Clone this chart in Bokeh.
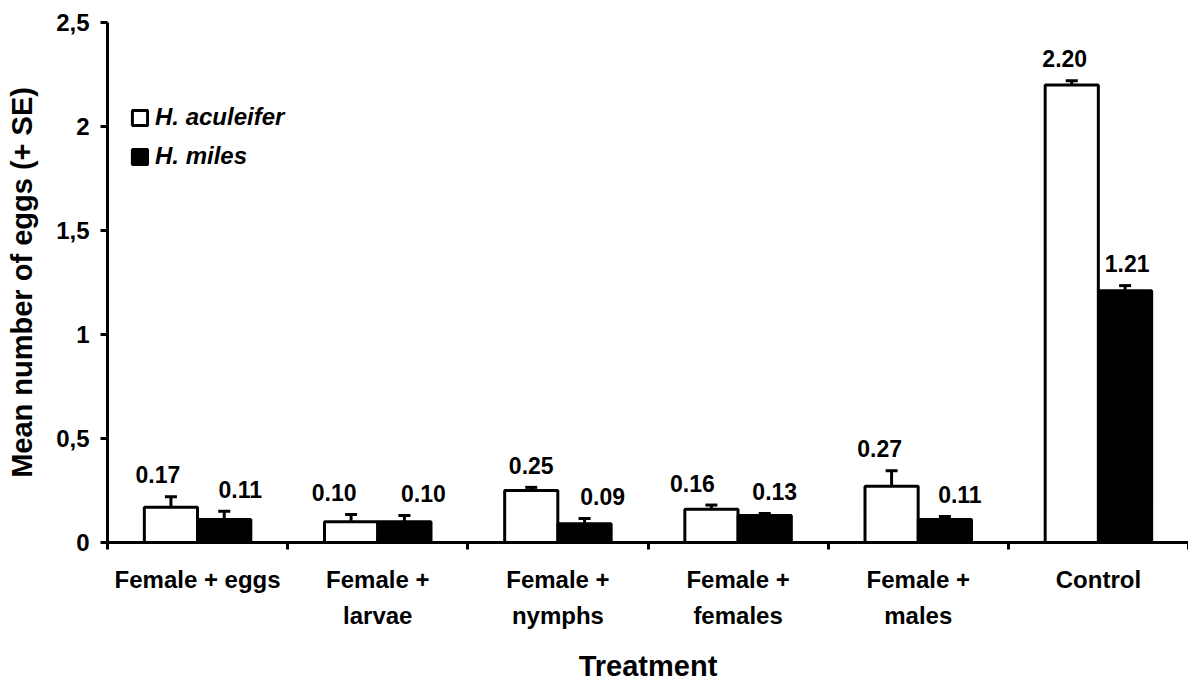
from bokeh.plotting import figure
from bokeh.models import (Range1d, FixedTicker, LinearAxis, Whisker, ColumnDataSource,
                          Legend, LegendItem, TeeHead)
from bokeh.core.properties import value
from bokeh.embed import file_html
from bokeh.resources import INLINE

# ---------------- data ----------------
categories = ["Female + eggs", "Female +\nlarvae", "Female +\nnymphs",
              "Female +\nfemales", "Female +\nmales", "Control"]
aculeifer = [0.17, 0.10, 0.25, 0.16, 0.27, 2.20]
aculeifer_se = [0.05, 0.035, 0.015, 0.02, 0.075, 0.02]
miles = [0.11, 0.10, 0.09, 0.13, 0.11, 1.21]
miles_se = [0.04, 0.03, 0.025, 0.01, 0.015, 0.025]
y_ticks = [0, 0.5, 1, 1.5, 2, 2.5]
y_tick_labels = ["0", "0,5", "1", "1,5", "2", "2,5"]
series_names = ["H. aculeifer", "H. miles"]

# label horizontal nudges (px), as placed in the original
aculeifer_label_dx = [-13, -17, 0, -19, -12, -7]
miles_label_dx = [16, 19, 18, 10, 15, 2]

FONT = "Liberation Sans"
BAR_W = 0.295
OFF = 0.148

centers = [i + 0.5 for i in range(len(categories))]
x_a = [c - OFF for c in centers]
x_m = [c + OFF for c in centers]

src_a = ColumnDataSource(dict(x=x_a, top=aculeifer, upper=[v + s for v, s in zip(aculeifer, aculeifer_se)],
                              lab=[f"{v:.2f}" for v in aculeifer], dx=aculeifer_label_dx))
src_m = ColumnDataSource(dict(x=x_m, top=miles, upper=[v + s for v, s in zip(miles, miles_se)],
                              lab=[f"{v:.2f}" for v in miles], dx=miles_label_dx))

p = figure(width=1188, height=684, x_range=Range1d(0, len(categories)), y_range=Range1d(0, 2.5),
           output_backend="svg", toolbar_location=None,
           min_border_left=107, min_border_right=0, min_border_top=22, min_border_bottom=141)
p.outline_line_color = None
p.xgrid.grid_line_color = None
p.ygrid.grid_line_color = None
p.background_fill_color = "white"
p.border_fill_color = "white"

r_a = p.vbar(x="x", top="top", width=BAR_W, source=src_a, fill_color="white",
             line_color="black", line_width=3)
r_m = p.vbar(x="x", top="top", width=BAR_W, source=src_m, fill_color="black",
             line_color="black", line_width=3)

for src in (src_a, src_m):
    w = Whisker(base="x", lower="top", upper="upper", source=src, dimension="height",
                line_color="black", line_width=3, lower_head=None,
                upper_head=TeeHead(size=12, line_width=3, line_color="black"))
    p.add_layout(w)
    p.text(x="x", y="upper", text="lab", source=src, x_offset="dx", y_offset=-22,
           text_align="center", text_baseline="alphabetic",
           text_font=value(FONT), text_font_style="bold", text_font_size="23px",
           text_color="black")

# ---- y axis ----
ya = p.yaxis[0]
ya.ticker = FixedTicker(ticks=y_ticks)
ya.major_label_overrides = {t: l for t, l in zip(y_ticks, y_tick_labels)}
ya.axis_line_width = 3
ya.major_tick_line_width = 3
ya.major_tick_out = 7
ya.major_tick_in = 0
ya.minor_tick_line_color = None
ya.major_label_standoff = 11
ya.major_label_text_font = FONT
ya.major_label_text_font_style = "bold"
ya.major_label_text_font_size = "24px"
ya.major_label_text_color = "black"
ya.axis_label = "Mean number of eggs (+ SE)"
ya.axis_label_text_font = FONT
ya.axis_label_text_font_style = "bold"
ya.axis_label_text_font_size = "29px"
ya.axis_label_text_color = "black"
ya.axis_label_standoff = 15

# ---- x axis: first line of category labels + boundary ticks ----
line1 = [c.split("\n")[0] for c in categories]
line2 = [c.split("\n")[1] if "\n" in c else "" for c in categories]

xa = p.xaxis[0]
xa.ticker = FixedTicker(ticks=centers, minor_ticks=list(range(len(categories) + 1)))
xa.major_label_overrides = {c: l for c, l in zip(centers, line1)}
xa.axis_line_width = 3
xa.major_tick_line_color = None
xa.major_tick_out = 0
xa.major_tick_in = 0
xa.minor_tick_line_color = "black"
xa.minor_tick_line_width = 3
xa.minor_tick_out = 7
xa.minor_tick_in = 0
xa.major_label_standoff = 16
xa.major_label_text_font = FONT
xa.major_label_text_font_style = "bold"
xa.major_label_text_font_size = "24px"
xa.major_label_text_color = "black"

xa2 = LinearAxis(ticker=FixedTicker(ticks=centers),
                 major_label_overrides={c: l for c, l in zip(centers, line2)})
xa2.axis_line_color = None
xa2.major_tick_line_color = None
xa2.minor_tick_line_color = None
xa2.major_tick_out = 0
xa2.major_tick_in = 0
xa2.major_label_standoff = 6
xa2.major_label_text_font = FONT
xa2.major_label_text_font_style = "bold"
xa2.major_label_text_font_size = "24px"
xa2.major_label_text_color = "black"
xa2.axis_label = "Treatment"
xa2.axis_label_text_font = FONT
xa2.axis_label_text_font_style = "bold"
xa2.axis_label_text_font_size = "29px"
xa2.axis_label_text_color = "black"
xa2.axis_label_standoff = 18
p.add_layout(xa2, "below")

# ---- legend ----
legend = Legend(items=[LegendItem(label=series_names[0], renderers=[r_a]),
                       LegendItem(label=series_names[1], renderers=[r_m])],
                location=(23, 372), padding=0, spacing=11, glyph_width=19, glyph_height=19,
                label_standoff=6, label_height=20,
                label_text_font=FONT, label_text_font_style="bold italic",
                label_text_font_size="24px", label_text_color="black",
                border_line_color=None, background_fill_alpha=0)
p.add_layout(legend)

open("out.html", "w").write(file_html(p, INLINE))
